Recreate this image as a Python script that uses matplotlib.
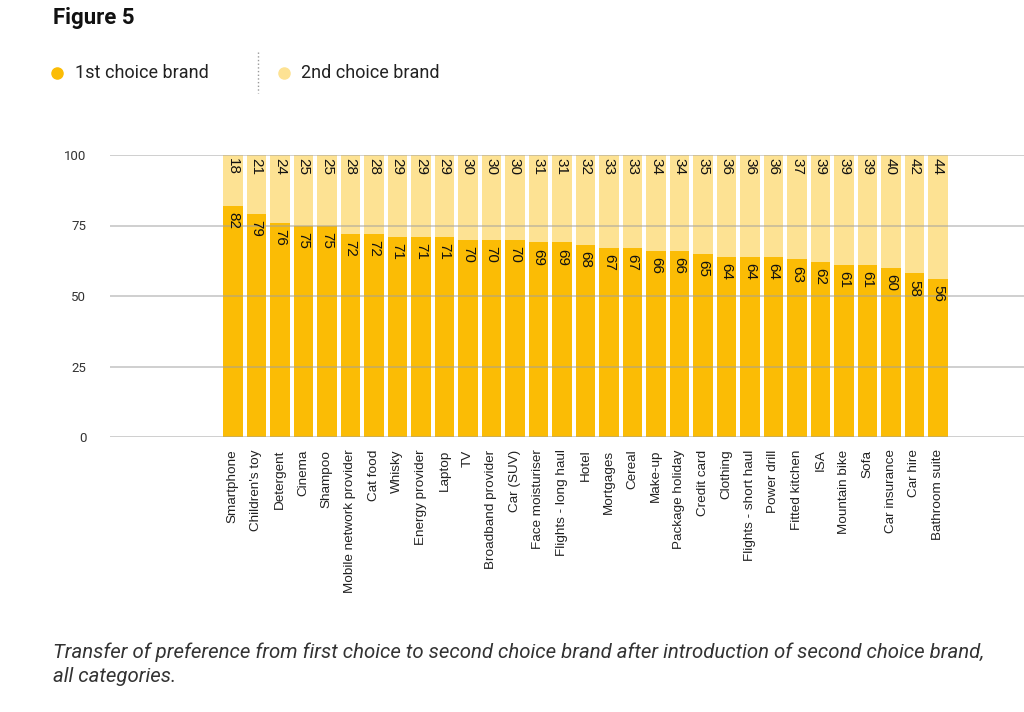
import matplotlib.pyplot as plt
from matplotlib.lines import Line2D

# Données du graphique
categories = ["Smartphone", "Children's toy", "Detergent", "Cinema", "Shampoo",
              "Mobile network provider", "Cat food", "Whisky", "Energy provider",
              "Laptop", "TV", "Broadband provider", "Car (SUV)", "Face moisturiser",
              "Flights - long haul", "Hotel", "Mortgages", "Cereal", "Make-up",
              "Package holiday", "Credit card", "Clothing", "Flights - short haul",
              "Power drill", "Fitted kitchen", "ISA", "Mountain bike", "Sofa",
              "Car insurance", "Car hire", "Bathroom suite"]
first_choice = [82, 79, 76, 75, 75, 72, 72, 71, 71, 71, 70, 70, 70, 69, 69, 68,
                67, 67, 66, 66, 65, 64, 64, 64, 63, 62, 61, 61, 60, 58, 56]
second_choice = [18, 21, 24, 25, 25, 28, 28, 29, 29, 29, 30, 30, 30, 31, 31, 32,
                 33, 33, 34, 34, 35, 36, 36, 36, 37, 39, 39, 39, 40, 42, 44]
y_ticks = [0, 25, 50, 75, 100]

dark = '#FBBC05'
light = '#FDE293'

fig = plt.figure(figsize=(10.24, 7.12), dpi=100)
ax = fig.add_axes([110 / 1024, 1 - 437 / 712, 1 - 110 / 1024, 282 / 712])

x = range(len(categories))
ax.bar(x, first_choice, width=0.84, color=dark, zorder=2)
ax.bar(x, second_choice, width=0.84, bottom=first_choice, color=light, zorder=2)

# Etiquettes de valeurs
for i, (a, b) in enumerate(zip(first_choice, second_choice)):
    ax.annotate(str(a), (i, a), xytext=(0, -4.5), textcoords='offset points',
                rotation=270, ha='center', va='top', fontsize=11,
                family='Liberation Sans', color='#111', zorder=5)
    ax.annotate(str(b), (i, 100), xytext=(0, -2.2), textcoords='offset points',
                rotation=270, ha='center', va='top', fontsize=11,
                family='Liberation Sans', color='#111', zorder=5)

ax.set_xlim(-5.23, 33.66)
ax.set_ylim(0, 100)
ax.set_yticks(y_ticks)
ax.set_yticklabels([str(t) for t in y_ticks], family='Roboto', fontsize=9.5, color='#333')
ax.set_xticks(list(x))
ax.set_xticklabels(categories, rotation=90, family='Liberation Sans', fontsize=9.7,
                   color='#222', va='top')
ax.tick_params(axis='both', length=0)
ax.tick_params(axis='y', pad=17)
ax.tick_params(axis='x', pad=9)
for t in y_ticks:
    ax.axhline(t, color='#a0a0a0', alpha=0.5, lw=1.4, zorder=3)
for s in ax.spines.values():
    s.set_visible(False)
ax.set_facecolor('none')

# Titre et légende
fig.text(53 / 1024, 1 - 18 / 712, 'Figure 5', family='Roboto', fontweight='bold',
         fontsize=16, va='center', ha='left', color='#111')
fig.add_artist(Line2D([57 / 1024], [1 - 73 / 712], marker='o', markersize=8,
                      color=dark, linestyle='none'))
fig.text(75 / 1024, 1 - 73 / 712, '1st choice brand', family='Roboto', fontsize=13,
         va='center', ha='left', color='#222')
fig.add_artist(Line2D([258 / 1024, 258 / 1024], [1 - 52 / 712, 1 - 93 / 712],
                      color='#999', lw=1, linestyle=':'))
fig.add_artist(Line2D([284 / 1024], [1 - 73 / 712], marker='o', markersize=8,
                      color=light, linestyle='none'))
fig.text(301 / 1024, 1 - 73 / 712, '2nd choice brand', family='Roboto', fontsize=13,
         va='center', ha='left', color='#222')

# Légende du bas
fig.text(53 / 1024, 1 - 664 / 712,
         'Transfer of preference from first choice to second choice brand after '
         'introduction of second choice brand,\nall categories.',
         family='Roboto', style='italic', fontsize=14.7, va='center', ha='left',
         color='#333', linespacing=1.35)

fig.savefig('out.png', dpi=100)
